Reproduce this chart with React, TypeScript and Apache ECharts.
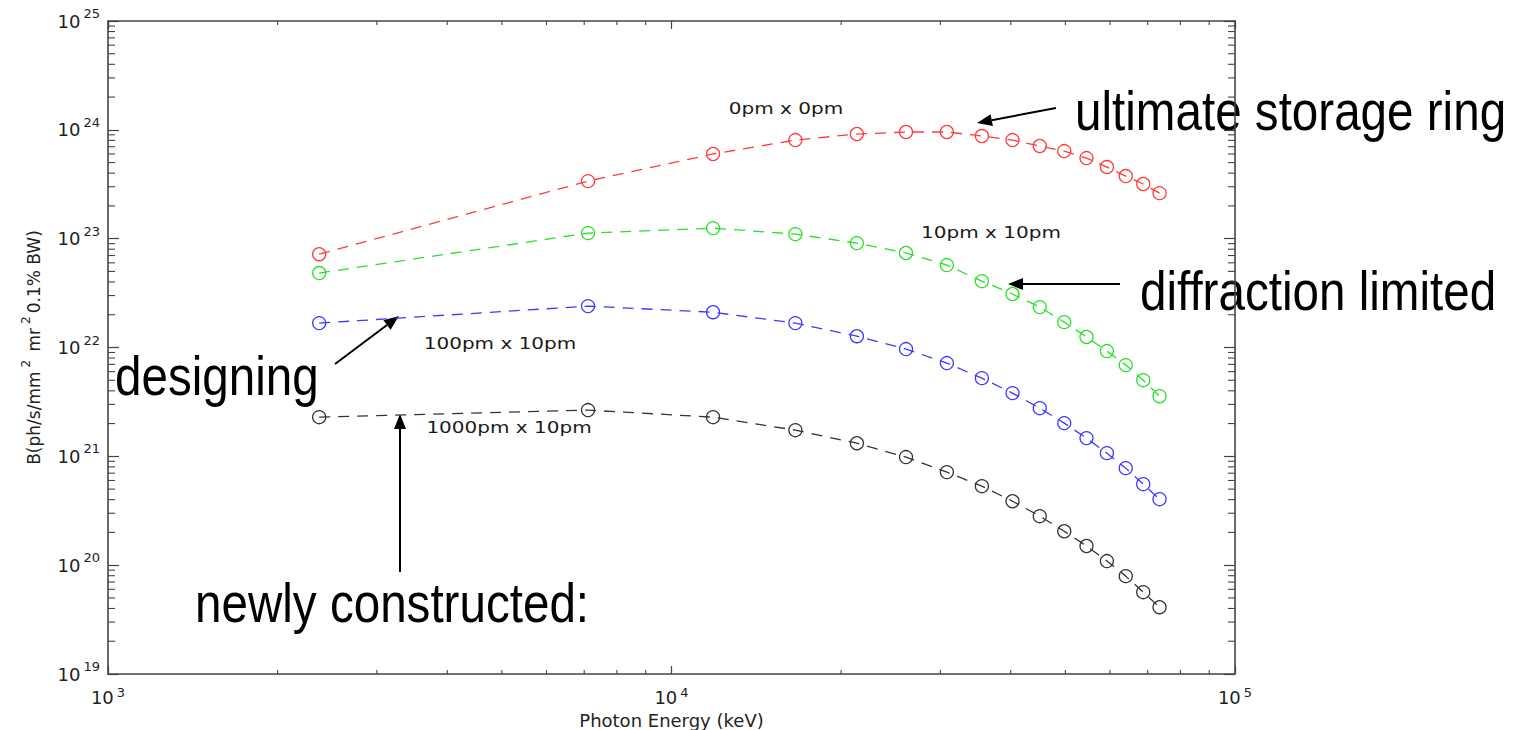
import { useEffect, useRef } from 'react';
import * as echarts from 'echarts';

// Photon energies of the odd undulator harmonics (1st .. 31st)
const energy = [
  2370, 7110, 11850, 16590, 21330, 26070, 30810, 35550,
  40290, 45030, 49770, 54510, 59250, 63990, 68730, 73470,
];

// Brilliance for each emittance pair, ph/s/mm^2/mr^2/0.1%BW
const brill0x0 = [
  7.2e22, 3.38e23, 6.0e23, 8.05e23, 9.15e23, 9.55e23, 9.55e23, 8.77e23,
  8.05e23, 7.1e23, 6.38e23, 5.5e23, 4.55e23, 3.76e23, 3.18e23, 2.62e23,
];
const brill10x10 = [
  4.83e22, 1.125e23, 1.25e23, 1.1e23, 9.1e22, 7.38e22, 5.72e22, 4.07e22,
  3.1e22, 2.35e22, 1.71e22, 1.25e22, 9.27e21, 6.89e21, 5.01e21, 3.57e21,
];
const brill100x10 = [
  1.675e22, 2.4e22, 2.11e22, 1.675e22, 1.27e22, 9.67e21, 7.19e21, 5.23e21,
  3.81e21, 2.77e21, 2.02e21, 1.47e21, 1.07e21, 7.79e20, 5.55e20, 4.04e20,
];
const brill1000x10 = [
  2.29e21, 2.66e21, 2.29e21, 1.74e21, 1.32e21, 9.84e20, 7.16e20, 5.32e20,
  3.87e20, 2.82e20, 2.05e20, 1.5e20, 1.09e20, 7.93e19, 5.65e19, 4.11e19,
];

const curves = [brill0x0, brill10x10, brill100x10, brill1000x10];
const curveNames = ['0pm x 0pm', '10pm x 10pm', '100pm x 10pm', '1000pm x 10pm'];
const curveColors = ['#ff3a3a', '#28e028', '#3a3aff', '#333333'];

const X_MIN = 1e3;
const X_MAX = 1e5;
const Y_MIN = 1e19;
const Y_MAX = 1e25;

// Minor log ticks (2..9 within each decade)
const xMinorTicks: number[] = [];
for (let d = 3; d < 5; d++) for (let m = 2; m <= 9; m++) xMinorTicks.push(m * Math.pow(10, d));
const yMinorTicks: number[] = [];
for (let d = 19; d < 25; d++) for (let m = 2; m <= 9; m++) yMinorTicks.push(m * Math.pow(10, d));

const AXIS_COLOR = '#444';
const TEXT_COLOR = '#222';
const CHART_FONT = 'DejaVu Sans, Verdana, sans-serif';
const SLIDE_FONT = 'Liberation Sans, Arial, Helvetica, sans-serif';

const powLabel = (v: number) => `{b|10}{s|${Math.round(Math.log10(v))}}`;
const powRich = (raise: number) => ({
  b: { fontSize: 18, lineHeight: 18, fontFamily: CHART_FONT, color: TEXT_COLOR },
  s: { fontSize: 13, lineHeight: 13, fontFamily: CHART_FONT, color: TEXT_COLOR, padding: [0, 0, raise, 3] },
});

function arrow(x1: number, y1: number, x2: number, y2: number) {
  const dx = x2 - x1;
  const dy = y2 - y1;
  const len = Math.hypot(dx, dy);
  const ux = dx / len;
  const uy = dy / len;
  const hl = 15;
  const hw = 6;
  const bx = x2 - ux * hl;
  const by = y2 - uy * hl;
  return [
    { type: 'line', silent: true, shape: { x1, y1, x2: bx, y2: by }, style: { stroke: '#000', lineWidth: 2 } },
    {
      type: 'polygon',
      silent: true,
      shape: { points: [[x2, y2], [bx - uy * hw, by + ux * hw], [bx + uy * hw, by - ux * hw]] },
      style: { fill: '#000' },
    },
  ];
}

const slideText = (text: string, x: number, y: number) => ({
  type: 'text',
  x,
  y,
  scaleX: 0.85,
  silent: true,
  style: { text, fontSize: 56, fontFamily: SLIDE_FONT, fill: '#000', align: 'left', verticalAlign: 'middle' },
});

const curveLabel = (text: string, x: number, y: number) => ({
  type: 'text',
  x,
  y,
  scaleX: 1.25,
  silent: true,
  style: { text, fontSize: 16, fontFamily: CHART_FONT, fill: '#1a1a1a', align: 'center', verticalAlign: 'middle' },
});

export default function App() {
  const ref = useRef<HTMLDivElement>(null);

  useEffect(() => {
    if (!ref.current) return;
    const chart = echarts.init(ref.current, undefined, { renderer: 'svg' });

    const logAxisBase = {
      type: 'log',
      logBase: 10,
      splitLine: { show: false },
      minorTick: { show: false },
      axisLine: { show: true, onZero: false, lineStyle: { color: AXIS_COLOR, width: 1.6 } },
    };

    const option: any = {
      animation: false,
      backgroundColor: '#fff',
      grid: { left: 108, right: 286, top: 21, bottom: 56, containLabel: false, outerBoundsMode: 'none' },
      xAxis: [
        {
          ...logAxisBase,
          position: 'bottom',
          min: X_MIN,
          max: X_MAX,
          splitNumber: 2,
          axisTick: { show: true, inside: true, length: 8, lineStyle: { color: AXIS_COLOR, width: 1.2 } },
          axisLabel: { formatter: powLabel, rich: powRich(10), margin: 14 },
          name: 'Photon Energy (keV)',
          nameLocation: 'middle',
          nameGap: 37,
          nameMoveOverlap: false,
          nameTextStyle: { fontSize: 18, fontFamily: CHART_FONT, color: TEXT_COLOR },
        },
        {
          ...logAxisBase,
          position: 'top',
          min: X_MIN,
          max: X_MAX,
          splitNumber: 2,
          axisTick: { show: true, inside: true, length: 8, lineStyle: { color: AXIS_COLOR, width: 1.2 } },
          axisLabel: { show: false },
        },
      ],
      yAxis: [
        {
          ...logAxisBase,
          position: 'left',
          min: Y_MIN,
          max: Y_MAX,
          splitNumber: 6,
          axisTick: { show: true, inside: true, length: 11, lineStyle: { color: AXIS_COLOR, width: 1.2 } },
          axisLabel: { formatter: powLabel, rich: powRich(15), margin: 8, align: 'right' },
          name: '{t|B(ph/s/mm}{s|2}{t| mr}{s|2}{t|0.1% BW)}',
          nameLocation: 'middle',
          nameGap: 66,
          nameMoveOverlap: false,
          nameTextStyle: {
            rich: {
              t: { fontSize: 17, lineHeight: 17, fontFamily: CHART_FONT, color: TEXT_COLOR },
              s: { fontSize: 12, lineHeight: 12, fontFamily: CHART_FONT, color: TEXT_COLOR, padding: [0, 3, 15, 4] },
            },
          },
        },
        {
          ...logAxisBase,
          position: 'right',
          min: Y_MIN,
          max: Y_MAX,
          splitNumber: 6,
          axisTick: { show: true, inside: true, length: 11, lineStyle: { color: AXIS_COLOR, width: 1.2 } },
          axisLabel: { show: false },
        },
      ],
      series: [
        ...curves.map((vals, i) => ({
          type: 'line',
          name: curveNames[i],
          data: energy.map((e, j) => [e, vals[j]]),
          symbol: 'circle',
          symbolSize: 13,
          showSymbol: true,
          lineStyle: { color: curveColors[i], width: 1.3, type: [11, 8] },
          itemStyle: { color: 'rgba(255,255,255,0)', borderColor: curveColors[i], borderWidth: 1.3 },
          emphasis: { disabled: true },
          z: 3,
        })),
        {
          type: 'custom',
          name: 'x minor ticks',
          silent: true,
          clip: false,
          data: xMinorTicks.map((v) => [v, Y_MIN]),
          renderItem: (params: any, api: any) => {
            const x = api.coord([api.value(0), Y_MIN])[0];
            const cs = params.coordSys;
            const top = cs.y;
            const bottom = cs.y + cs.height;
            const st = { stroke: AXIS_COLOR, lineWidth: 1.1 };
            return {
              type: 'group',
              children: [
                { type: 'line', shape: { x1: x, y1: bottom, x2: x, y2: bottom - 4 }, style: st },
                { type: 'line', shape: { x1: x, y1: top, x2: x, y2: top + 4 }, style: st },
              ],
            };
          },
          z: 2,
        },
        {
          type: 'custom',
          name: 'y minor ticks',
          silent: true,
          clip: false,
          data: yMinorTicks.map((v) => [X_MIN, v]),
          renderItem: (params: any, api: any) => {
            const y = api.coord([X_MIN, api.value(1)])[1];
            const cs = params.coordSys;
            const left = cs.x;
            const right = cs.x + cs.width;
            const st = { stroke: AXIS_COLOR, lineWidth: 1.1 };
            return {
              type: 'group',
              children: [
                { type: 'line', shape: { x1: left, y1: y, x2: left + 7, y2: y }, style: st },
                { type: 'line', shape: { x1: right, y1: y, x2: right - 7, y2: y }, style: st },
              ],
            };
          },
          z: 2,
        },
      ],
      graphic: [
        curveLabel(curveNames[0], 786, 108),
        curveLabel(curveNames[1], 991, 232),
        curveLabel(curveNames[2], 500, 343),
        curveLabel(curveNames[3], 509, 427),
        slideText('ultimate storage ring', 1075, 111),
        slideText('diffraction limited', 1140, 291),
        slideText('designing', 115, 376),
        slideText('newly constructed:', 195, 603),
        ...arrow(1056, 108, 977, 123),
        ...arrow(1120, 284, 1008, 284),
        ...arrow(335, 364, 399, 316),
        ...arrow(400, 572, 400, 414),
      ],
    };

    chart.setOption(option);
    return () => chart.dispose();
  }, []);

  return (
    <div
      ref={ref}
      style={{ position: 'absolute', left: 0, top: 0, width: 1521, height: 730, background: '#fff' }}
    />
  );
}
